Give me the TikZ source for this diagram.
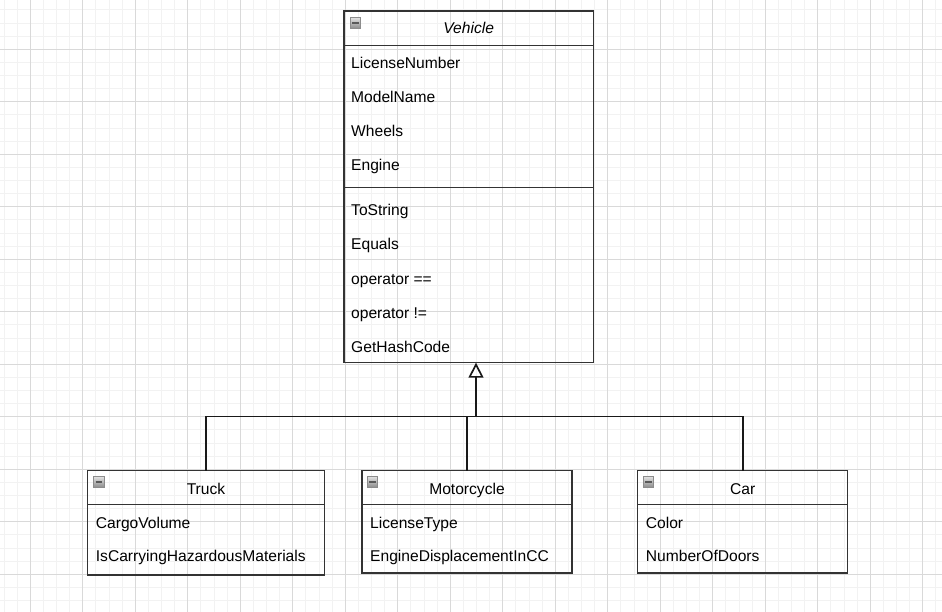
\documentclass[tikz,border=0pt]{standalone}
\usepackage{fontspec}
\setmainfont{Liberation Sans}
\usetikzlibrary{arrows.meta}
\tikzset{
  minorgrid/.style={draw=black!5, line width=1pt},
  majorgrid/.style={draw=black!15, line width=0.9pt},
  box/.style={draw=black!80, line width=1.3pt, inner sep=0pt, outer sep=0pt, anchor=north west},
  boxline/.style={draw=black!80, line width=1.3pt},
  attr/.style={inner sep=0pt, anchor=base west, font=\fontsize{15.6}{18}\selectfont, text=black},
  title/.style={inner sep=0pt, anchor=base, font=\fontsize{15.6}{18}\selectfont, text=black},
  edge/.style={draw=black!90, line width=1.7pt},
  icon/.style={minimum size=10.5pt, inner sep=0pt, draw=black!45, line width=0.8pt,
    top color=black!12, bottom color=black!45,
    path picture={\draw[line width=1.3pt, black!65]
      ([xshift=2pt]path picture bounding box.west) -- ([xshift=-2pt]path picture bounding box.east);}}
}
\begin{document}
\begin{tikzpicture}[x=1pt,y=-1pt]
\useasboundingbox (0,0) rectangle (942,612);
\fill[white] (0,0) rectangle (942,612);
% grid
\foreach \i in {0,...,72} {\draw[minorgrid] ({4.05+\i*13.125},0) -- ({4.05+\i*13.125},612);}
\foreach \i in {0,...,46} {\draw[minorgrid] (0,{9.9+\i*13.125}) -- (942,{9.9+\i*13.125});}
\foreach \i in {0,...,17} {\draw[majorgrid] ({30.3+\i*52.5},0) -- ({30.3+\i*52.5},612);}
\foreach \i in {0,...,10} {\draw[majorgrid] (0,{49.3+\i*52.5}) -- (942,{49.3+\i*52.5});}

% Vehicle
\node[box, minimum width=249.3pt, minimum height=351.7pt] (vehicle) at (344,11) {};
\draw[boxline] (344,45.3) -- (593.3,45.3);
\draw[boxline] (344,187.3) -- (593.3,187.3);
\node[icon] (vicon) at (355.3,23) {};
\node[title, font=\fontsize{15.6}{18}\selectfont\itshape] (vtitle) at (468.7,33.3) {Vehicle};
\node[attr] (va1) at (351,69) {LicenseNumber};
\node[attr] (va2) at (351,103) {ModelName};
\node[attr] (va3) at (351,137) {Wheels};
\node[attr] (va4) at (351,171) {Engine};
\node[attr] (vm1) at (351,216) {ToString};
\node[attr] (vm2) at (351,250) {Equals};
\node[attr] (vm3) at (351,284) {operator ==};
\node[attr] (vm4) at (351,318) {operator !=};
\node[attr] (vm5) at (351,352) {GetHashCode};

% Truck
\node[box, minimum width=236.6pt, minimum height=104.3pt] (truck) at (87.7,470.7) {};
\draw[boxline] (87.7,504.7) -- (324.3,504.7);
\node[icon] (ticon) at (98.8,482) {};
\node[title] (ttitle) at (206,494.3) {Truck};
\node[attr] (ta1) at (95.7,528.3) {CargoVolume};
\node[attr] (ta2) at (95.7,561.7) {IsCarryingHazardousMaterials};

% Motorcycle
\node[box, minimum width=210pt, minimum height=102.3pt] (moto) at (362,470.7) {};
\draw[boxline] (362,504.7) -- (572,504.7);
\node[icon] (micon) at (372.5,482) {};
\node[title] (mtitle) at (467,494.3) {Motorcycle};
\node[attr] (ma1) at (370,528.3) {LicenseType};
\node[attr] (ma2) at (370,561.7) {EngineDisplacementInCC};

% Car
\node[box, minimum width=210pt, minimum height=102.3pt] (car) at (637.7,470.7) {};
\draw[boxline] (637.7,504.7) -- (847.7,504.7);
\node[icon] (cicon) at (648.5,482) {};
\node[title] (ctitle) at (742.7,494.3) {Car};
\node[attr] (ca1) at (645.7,528.3) {Color};
\node[attr] (ca2) at (645.7,561.7) {NumberOfDoors};

% Inheritance
\coordinate (hub) at (476,416.5);
\draw[edge] (truck.north) |- (hub);
\draw[edge] (moto.north) |- (hub);
\draw[edge] (car.north) |- (hub);
\draw[edge, -{Triangle[open, length=15pt, width=15pt, line width=1.7pt]}] (hub) -- (vehicle.south -| hub);
\end{tikzpicture}
\end{document}
